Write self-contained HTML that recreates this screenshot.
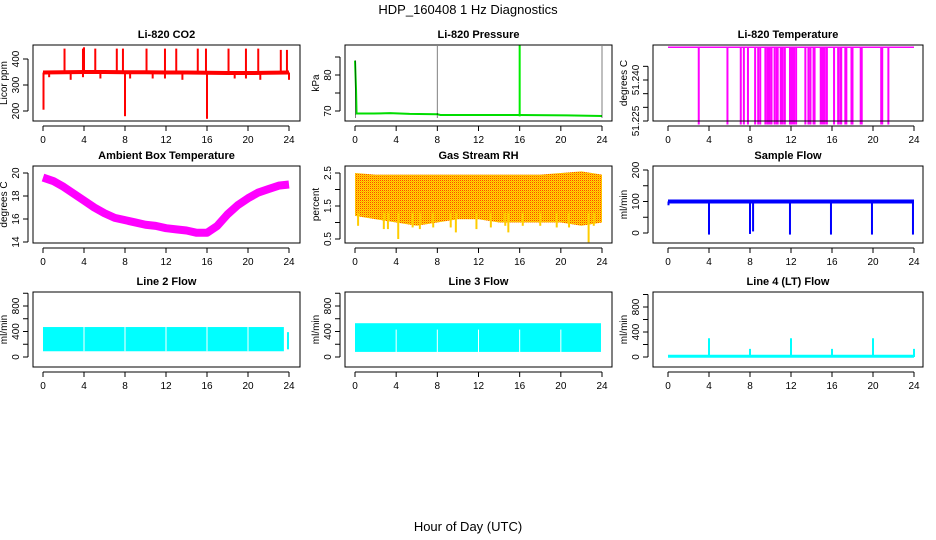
<!DOCTYPE html>
<html><head><meta charset="utf-8"><style>
body{margin:0;background:#fff}
svg{display:block;font-family:"Liberation Sans",sans-serif}
.t{font-size:11px;font-weight:bold;text-anchor:middle}
.k{font-size:10px;text-anchor:middle}
</style></head><body>
<svg id="s" width="936" height="540" xmlns="http://www.w3.org/2000/svg">
<defs><pattern id="rh" width="2" height="2" patternUnits="userSpaceOnUse"><rect width="2" height="2" fill="#ffdd00"/><rect width="1" height="1" fill="#ff4400"/><rect x="1" y="1" width="1" height="1" fill="#ffaa00"/></pattern></defs>
<text x="468" y="14" font-size="13" text-anchor="middle">HDP_160408  1 Hz Diagnostics</text>
<text x="468" y="531" font-size="13" text-anchor="middle">Hour of Day (UTC)</text>
</svg>
<script>
// ---- data ----
const xTicks=[0,4,8,12,16,20,24];
const co2BaseHours=[0,2,4,6,8,10,12,14,16,18,20,22,24];
const co2BaseVals=[348,349,350,350,349,349,348,348,347,346,346,347,348];
const co2UpHours=[2.1,3.9,4.0,5.1,7.2,7.8,10.1,11.9,13.0,15.1,15.9,18.1,19.8,21.0,23.2,23.8];
const co2UpVals=[440,440,445,440,440,440,440,440,440,440,440,440,440,440,435,435];
const co2DownHours=[0.05,0.6,2.7,3.9,5.6,8.0,8.5,10.7,11.9,13.6,16.0,18.7,19.8,21.2,24.0];
const co2DownVals=[205,330,320,330,325,180,325,325,325,320,170,325,325,320,320];
const presHours=[0,0.1,0.15,1.8,3.4,5.3,8,8.3,12,16,20.6,24];
const presVals=[84,76,69.3,69.3,69.4,69.2,69.1,68.9,68.9,68.9,68.8,68.6];
const presBlackSpikes=[0.05,8.0,24.0];
const presGreenSpikes=[16.0];
const tempLevel=51.252;
const tempDropHours=[3.0,5.8,7.1,7.4,7.8,8.5,8.8,9.0,9.5,9.7,9.8,9.9,10.1,10.4,10.6,10.7,11.0,11.1,11.2,11.4,11.9,12.0,12.1,12.2,12.3,12.5,13.4,13.7,13.9,14.2,14.3,14.9,15.0,15.1,15.2,15.3,15.5,16.2,16.6,16.8,16.9,17.3,17.4,17.9,18.0,18.8,18.9,20.8,20.9,21.5];
const tempDropVal=51.2237;
const ambHours=[0,1,2,3,4,5,6,7,8,9,10,11,12,13,14,15,16,17,18,19,20,21,22,23,24];
const ambVals=[19.6,19.3,18.8,18.2,17.6,17.0,16.5,16.1,15.9,15.7,15.5,15.4,15.2,15.1,15.0,14.8,14.8,15.4,16.4,17.2,17.8,18.3,18.6,18.9,19.0];
const rhHours=[0,2,4,6,8,10,12,14,16,18,20,22,24];
const rhTop=[2.5,2.45,2.45,2.45,2.45,2.45,2.45,2.45,2.45,2.45,2.5,2.55,2.45];
const rhBot=[1.2,1.1,1.0,0.9,1.0,1.1,1.1,1.0,1.0,1.0,1.0,0.9,1.0];
const rhDipHours=[0.3,2.8,3.2,4.2,5.6,6.3,7.6,9.3,9.8,11.8,13.2,14.6,14.9,16.3,18.0,19.6,20.8,22.7,23.2];
const rhDipVals=[0.9,0.8,0.8,0.5,0.85,0.8,0.85,0.85,0.7,0.8,0.85,0.9,0.7,0.9,0.9,0.85,0.85,0.4,0.9];
const sfHours=[0,24];
const sfVals=[100,100];
const sfDipHours=[0.05,4.0,8.0,8.3,11.9,15.9,19.9,23.9];
const sfDipVals=[88,-5,-3,5,-5,-5,-5,-5];
const l2Top=470, l2Bot=90, l2End=23.5;
const l2GapHours=[4,8,12,16,20];
const l3Top=530, l3Bot=80, l3End=23.9;
const l3GapHours=[4,8,12,16,20];
const l4Base=12;
const l4SpikeHours=[4,8,12,16,20,24];
const l4SpikeVals=[300,130,300,130,300,130];

// ---- layout ----
const S=document.getElementById('s');
const NS='http://www.w3.org/2000/svg';
function el(tag,attrs,parent){const e=document.createElementNS(NS,tag);for(const k in attrs)e.setAttribute(k,attrs[k]);(parent||S).appendChild(e);return e;}
const cols=[{l:33,r:300,x0:43,x1:289},{l:345,r:612,x0:355,x1:602},{l:653,r:923,x0:668,x1:914}];
const rows=[{t:45,b:121},{t:166,b:243},{t:292,b:367}];
function panel(c,r,title,yt,ylab,yv0,yp0,yv1,yp1,name){
  const C=cols[c],R=rows[r];
  const g=el('g',{});
  
  
  const X=h=>C.x0+(C.x1-C.x0)*h/24;
  const Y=v=>yp0+(yp1-yp0)*(v-yv0)/(yv1-yv0);
  const t=el('text',{x:(C.l+C.r)/2,y:R.t-7,class:'t'},g);t.textContent=title;
  
  const plot=el('g',{},g);
  const box=el('rect',{x:C.l,y:R.t,width:C.r-C.l,height:R.b-R.t,fill:'none',stroke:'#000','stroke-width':1},g);
  
  el('line',{x1:X(0),x2:X(24),y1:R.b+5,y2:R.b+5,stroke:'#000'},g);
  xTicks.forEach(h=>{el('line',{x1:X(h),x2:X(h),y1:R.b+5,y2:R.b+10,stroke:'#000'},g);
    const l=el('text',{x:X(h),y:R.b+22,class:'k'},g);l.textContent=h;
    });
  const ax=C.l-5;
  el('line',{x1:ax,x2:ax,y1:Y(yt[0][0]),y2:Y(yt[yt.length-1][0]),stroke:'#000'},g);
  yt.forEach(([v,lab])=>{const y=Y(v);el('line',{x1:ax-5,x2:ax,y1:y,y2:y,stroke:'#000'},g);
    if(lab){const l=el('text',{x:0,y:0,class:'k',transform:`translate(${ax-9},${y}) rotate(-90)`},g);l.textContent=lab;
    }});
  const yl=el('text',{x:0,y:0,class:'k',transform:`translate(${C.l-26},${(R.t+R.b)/2}) rotate(-90)`},g);yl.textContent=ylab;
  
  return {X,Y,g:plot};
}
function poly(p,hs,vs,attrs){return el('polyline',Object.assign({points:hs.map((h,i)=>p.X(h)+','+p.Y(vs[i])).join(' '),fill:'none'},attrs),p.g);}
function vline(p,h,v0,v1,attrs){return el('line',Object.assign({x1:p.X(h),x2:p.X(h),y1:p.Y(v0),y2:p.Y(v1)},attrs),p.g);}

// CO2
let p=panel(0,0,'Li-820 CO2',[[200,'200'],[300,'300'],[400,'400']],'Licor ppm',400,59,200,111,'co2');
poly(p,co2BaseHours,co2BaseVals,{stroke:'red','stroke-width':4});
co2UpHours.forEach((h,i)=>{const e=vline(p,h,co2BaseVals[Math.min(12,Math.round(h/2))],co2UpVals[i],{stroke:'red','stroke-width':2});});
co2DownHours.forEach((h,i)=>{const e=vline(p,h,co2BaseVals[Math.min(12,Math.round(h/2))],co2DownVals[i],{stroke:'red','stroke-width':2});});
// Pressure
p=panel(1,0,'Li-820 Pressure',[[70,'70'],[75,''],[80,'80'],[85,'']],'kPa',80,75,70,111,'pressure');
poly(p,presHours,presVals,{stroke:'#00dd00','stroke-width':2});
presGreenSpikes.forEach(h=>{const e=vline(p,h,68.5,88.3,{stroke:'#00ee00','stroke-width':2});});
presBlackSpikes.forEach((h,i)=>{const e=vline(p,h,68.2,i==0?84:88,{stroke:'#000','stroke-width':1,'stroke-dasharray':'1,1'});});
// Temperature
p=panel(2,0,'Li-820 Temperature',[[51.225,'51.225'],[51.230,''],[51.235,''],[51.240,'51.240'],[51.245,'']],'degrees C',51.225,121,51.240,80,'li820-temp');
poly(p,[0,24],[tempLevel,tempLevel],{stroke:'magenta','stroke-width':1.5});
tempDropHours.forEach(h=>{const e=vline(p,h,tempLevel,tempDropVal,{stroke:'magenta','stroke-width':2});});
// Ambient
p=panel(0,1,'Ambient Box Temperature',[[14,'14'],[16,'16'],[18,'18'],[20,'20']],'degrees C',20,173,14,242,'ambient-temp');
poly(p,ambHours,ambVals,{stroke:'magenta','stroke-width':8,'stroke-linejoin':'round'});
// RH
p=panel(1,1,'Gas Stream RH',[[0.5,'0.5'],[1.0,''],[1.5,'1.5'],[2.0,''],[2.5,'2.5']],'percent',2.5,173,0.5,239,'gas-rh');
el('polygon',{points:rhHours.map((h,i)=>p.X(h)+','+p.Y(rhTop[i])).concat(rhHours.slice().reverse().map((h,j)=>p.X(h)+','+p.Y(rhBot[rhHours.length-1-j]))).join(' '),fill:'url(#rh)'},p.g);
rhDipHours.forEach((h,i)=>{const e=vline(p,h,1.3,rhDipVals[i],{stroke:'#ffcc00','stroke-width':2});});
// Sample flow
p=panel(2,1,'Sample Flow',[[0,'0'],[50,''],[100,'100'],[150,''],[200,'200']],'ml/min',200,170,0,233,'sample-flow');
poly(p,sfHours,sfVals,{stroke:'blue','stroke-width':4});
sfDipHours.forEach((h,i)=>{const e=vline(p,h,100,sfDipVals[i],{stroke:'blue','stroke-width':2});});
// Line 2
p=panel(0,2,'Line 2 Flow',[[0,'0'],[200,''],[400,'400'],[600,''],[800,'800'],[1000,'']],'ml/min',800,306,0,357,'line2-flow');
el('rect',{x:p.X(0),y:p.Y(l2Top),width:p.X(l2End)-p.X(0),height:p.Y(l2Bot)-p.Y(l2Top),fill:'cyan'},p.g);
vline(p,23.9,390,120,{stroke:'cyan','stroke-width':2});
l2GapHours.forEach(h=>{const e=vline(p,h,l2Top,l2Bot,{stroke:'#fff','stroke-width':1});});
// Line 3
p=panel(1,2,'Line 3 Flow',[[0,'0'],[200,''],[400,'400'],[600,''],[800,'800'],[1000,'']],'ml/min',800,306,0,357,'line3-flow');
el('rect',{x:p.X(0),y:p.Y(l3Top),width:p.X(l3End)-p.X(0),height:p.Y(l3Bot)-p.Y(l3Top),fill:'cyan'},p.g);
l3GapHours.forEach(h=>{const e=vline(p,h,430,l3Bot-50,{stroke:'#fff','stroke-width':1});});
// Line 4
p=panel(2,2,'Line 4 (LT) Flow',[[0,'0'],[200,''],[400,'400'],[600,''],[800,'800'],[1000,'']],'ml/min',800,307,0,357,'line4-flow');
poly(p,[0,24],[l4Base,l4Base],{stroke:'cyan','stroke-width':3});
l4SpikeHours.forEach((h,i)=>{const e=vline(p,h,0,l4SpikeVals[i],{stroke:'cyan','stroke-width':2});});
</script>
</body></html>
